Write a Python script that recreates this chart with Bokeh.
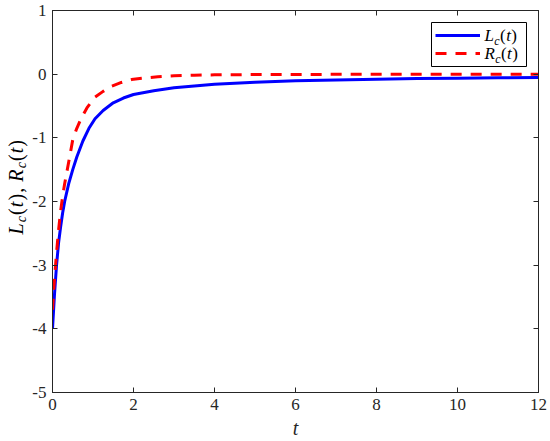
from math import pi
from bokeh.plotting import figure
from bokeh.layouts import row
from bokeh.models import (Range1d, LinearAxis, FixedTicker, Legend, LegendItem, Label,
                          BoxAnnotation)
from bokeh.embed import file_html
from bokeh.resources import INLINE

# ---- data ----
t_L = [0, 0.05, 0.1, 0.15, 0.2, 0.25, 0.3, 0.4, 0.5, 0.6, 0.75, 0.9, 1.05, 1.25,
       1.5, 1.75, 2.0, 2.5, 3.0, 3.5, 4, 5, 6, 7, 8, 9, 10, 11, 12]
L_c = [-4.0, -3.45, -3.0, -2.65, -2.4, -2.18, -2.0, -1.72, -1.5, -1.3, -1.05, -0.85,
       -0.7, -0.57, -0.45, -0.375, -0.32, -0.26, -0.215, -0.185, -0.16, -0.126,
       -0.105, -0.09, -0.079, -0.07, -0.063, -0.057, -0.052]
t_R = [0, 0.05, 0.1, 0.15, 0.2, 0.25, 0.3, 0.4, 0.5, 0.6, 0.72, 0.85, 1.05, 1.25,
       1.46, 1.7, 1.95, 2.28, 2.6, 3.0, 3.5, 4, 5, 6, 8, 10, 12]
R_c = [-3.7, -3.2, -2.8, -2.45, -2.15, -1.92, -1.72, -1.38, -1.03, -0.85, -0.68,
       -0.53, -0.36, -0.27, -0.19, -0.13, -0.085, -0.06, -0.04, -0.025, -0.016,
       -0.01, -0.006, -0.004, -0.002, -0.001, -0.001]
x_ticks = [0, 2, 4, 6, 8, 10, 12]
y_ticks = [-5, -4, -3, -2, -1, 0, 1]
X0, X1 = 0, 12
Y0, Y1 = -5, 1

# ---- layout ----
LABW = 28                      # strip holding the y-axis title
FW, FH = 486, 382
BL, BR, BT, BB = 24, 10, 10, 47
AX = "#262626"
FONT = "'Liberation Serif', 'Times New Roman', serif"
BASE_K = 0.35                  # anchor correction (fraction of font size)

p = figure(frame_width=FW, frame_height=FH, min_border_left=BL, min_border_right=BR,
           min_border_top=BT, min_border_bottom=BB,
           x_range=Range1d(X0, X1), y_range=Range1d(Y0, Y1),
           output_backend="svg", toolbar_location=None)
p.grid.visible = False
p.outline_line_color = AX
p.outline_line_width = 1
p.background_fill_color = "white"
p.border_fill_color = "white"

def style_axis(ax, ticks, show_labels):
    ax.ticker = FixedTicker(ticks=ticks)
    ax.major_tick_in = 5
    ax.major_tick_out = 0
    ax.minor_tick_in = 0
    ax.minor_tick_out = 0
    ax.axis_line_color = AX
    ax.major_tick_line_color = AX
    ax.major_label_text_font = FONT
    ax.major_label_text_color = AX
    ax.major_label_overrides = {v: str(v) for v in ticks}
    if show_labels:
        ax.major_label_text_font_size = "17px"
        ax.major_label_standoff = 6
    else:
        ax.major_label_text_font_size = "0px"
        ax.major_label_text_alpha = 0
        ax.major_label_standoff = 0

bottom = p.below[0]
left = p.left[0]
style_axis(bottom, x_ticks, True)
style_axis(left, y_ticks, True)
top = LinearAxis()
right = LinearAxis()
style_axis(top, x_ticks, False)
style_axis(right, y_ticks, False)
p.add_layout(top, "above")
p.add_layout(right, "right")

bottom.axis_label = "t"
bottom.axis_label_text_font = FONT
bottom.axis_label_text_font_style = "italic"
bottom.axis_label_text_font_size = "20px"
bottom.axis_label_text_color = AX
bottom.axis_label_standoff = 4

rL = p.line(t_L, L_c, line_color="#0000ff", line_width=3)
rR = p.line(t_R, R_c, line_color="#ff0000", line_width=3, line_dash="11 9")

# ---- legend: box drawn as BoxAnnotation, swatches by a transparent Legend ----
LEG_MARGIN, LEG_PAD, GW, GH, LW, LSO = 12, 4, 45, 18, 38, 4
LEG_W = 2 * LEG_PAD + GW + LSO + LW
LEG_H = 2 * LEG_PAD + 2 * GH

def c2d(cx, cy):
    """canvas pixel of the main figure -> data coordinates"""
    return (X0 + (cx - BL) / FW * (X1 - X0), Y1 - (cy - BT) / FH * (Y1 - Y0))

leg_right = BL + FW - LEG_MARGIN
leg_top = BT + LEG_MARGIN
bl_, bt_ = c2d(leg_right - LEG_W, leg_top)
br_, bb_ = c2d(leg_right, leg_top + LEG_H)
p.add_layout(BoxAnnotation(left=bl_, right=br_, top=bt_, bottom=bb_,
                           fill_color="white", fill_alpha=1,
                           line_color="black", line_width=1, line_alpha=1))

legend = Legend(items=[LegendItem(label=" ", renderers=[rL]),
                       LegendItem(label="  ", renderers=[rR])],
                location="top_right", margin=LEG_MARGIN, padding=LEG_PAD, spacing=0,
                glyph_width=GW, glyph_height=GH, label_width=LW, label_height=GH,
                label_standoff=LSO, label_text_font_size="10px",
                border_line_alpha=0, background_fill_alpha=0)
p.add_layout(legend)

# ---- composite math-like texts ----
WID = {"L": 0.556, "c": 0.444, "t": 0.278, "R": 0.611,
       "(": 0.333, ")": 0.333, ",": 0.25, " ": 0.25}

def place_runs(fig, conv, runs, cx, cy, angle, extra):
    """cx, cy: start of the text baseline in canvas pixels"""
    pos = 0.0
    for text, italic, size, shift in runs:
        w = sum(WID[ch] for ch in text) * size
        corr = shift - BASE_K * size
        if angle == 0:
            px, py = cx + pos, cy + corr
        else:
            px, py = cx + corr, cy - pos
        x, y = conv(px, py)
        fig.add_layout(Label(x=x, y=y, text=text, angle=angle, text_font=FONT,
                             text_font_style="italic" if italic else "normal",
                             text_font_size=f"{size}px", text_align="left",
                             text_baseline="alphabetic", text_color="black",
                             level="overlay"))
        pos += w + extra

def math_runs(letter, big, small, sub):
    return [(letter, True, big, 0), ("c", True, small, sub), ("(", False, big, 0),
            ("t", True, big, 0), (")", False, big, 0)]

lab_x = leg_right - LEG_PAD - LW
row1 = leg_top + LEG_PAD + GH / 2
place_runs(p, c2d, math_runs("L", 17, 12, 3.5), lab_x, row1 + 6, 0, 0.4)
place_runs(p, c2d, math_runs("R", 17, 12, 3.5), lab_x, row1 + GH + 6, 0, 0.4)

# y-axis title in its own strip on the left, frame aligned with the main plot
pl = figure(frame_width=LABW, frame_height=FH, min_border_left=0, min_border_right=0,
            min_border_top=BT, min_border_bottom=BB,
            x_range=Range1d(0, LABW), y_range=Range1d(Y0, Y1),
            x_axis_location=None, y_axis_location=None,
            output_backend="svg", toolbar_location=None)
pl.grid.visible = False
pl.outline_line_color = None
pl.background_fill_color = "white"
pl.border_fill_color = "white"

def c2d_strip(cx, cy):
    return (cx, Y1 - (cy - BT) / FH * (Y1 - Y0))

ylab = (math_runs("L", 20, 14, 4) + [(", ", False, 20, 0)] + math_runs("R", 20, 14, 4))
place_runs(pl, c2d_strip, ylab, 22, 234, pi / 2, 1.1)

layout = row(pl, p, spacing=0)
open("out.html", "w").write(file_html(layout, INLINE))
